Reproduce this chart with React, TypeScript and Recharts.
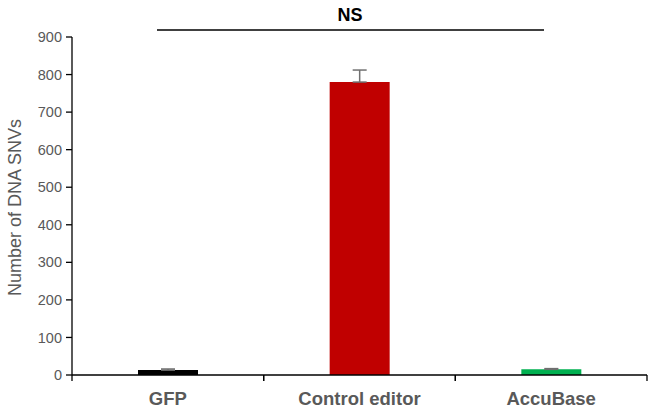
import React from "react";
import { BarChart, Bar, XAxis, YAxis, ErrorBar, Cell } from "recharts";

const categories = ["GFP", "Control editor", "AccuBase"];
const means = [13, 780, 15];
const errors = [3, 32, 2];
const barColors = ["#000000", "#C00000", "#00B050"];
const yTicks = [0, 100, 200, 300, 400, 500, 600, 700, 800, 900];

const data = categories.map((name, i) => ({
  name,
  value: means[i],
  err: [0, errors[i]],
}));

const W = 657;
const H = 413;
const M = { top: 37, right: 10, left: 0, bottom: 0 };
const Y_W = 72;
const FONT = "Liberation Sans, Arial, sans-serif";
const halfBand = (W - Y_W - M.right) / categories.length / 2;

const CatTick = (props: any) => {
  const { x, y, payload } = props;
  return (
    <g>
      <line x1={x - halfBand} x2={x - halfBand} y1={y - 8} y2={y - 2} stroke="#000" strokeWidth={1.3} />
      <line x1={x + halfBand} x2={x + halfBand} y1={y - 8} y2={y - 2} stroke="#000" strokeWidth={1.3} />
      <text
        x={x}
        y={y + 22}
        textAnchor="middle"
        fill="#595959"
        fontSize={18.5}
        fontWeight="bold"
        fontFamily={FONT}
      >
        {payload.value}
      </text>
    </g>
  );
};

export default function App() {
  return (
    <div style={{ position: "absolute", left: 0, top: 0, width: W, height: H, background: "#fff" }}>
      <BarChart width={W} height={H} data={data} margin={M}>
        <XAxis
          dataKey="name"
          height={38}
          axisLine={{ stroke: "#000", strokeWidth: 1.3 }}
          tickLine={false}
          tick={<CatTick />}
          interval={0}
        />
        <YAxis
          width={Y_W}
          domain={[0, 900]}
          ticks={yTicks}
          interval={0}
          axisLine={{ stroke: "#000", strokeWidth: 1.3 }}
          tickLine={{ stroke: "#000", strokeWidth: 1.3 }}
          tickSize={6}
          tickMargin={4}
          tick={{ fill: "#595959", fontSize: 14.5, fontFamily: FONT }}
          label={{
            value: "Number of DNA SNVs",
            angle: -90,
            position: "insideLeft",
            dx: 10,
            dy: 90,
            fill: "#595959",
            fontSize: 18,
            fontFamily: FONT,
          }}
        />
        <Bar dataKey="value" barSize={60} isAnimationActive={false}>
          {data.map((d, i) => (
            <Cell key={d.name} fill={barColors[i]} />
          ))}
          <ErrorBar dataKey="err" width={7} stroke="#707070" strokeWidth={1.5} direction="y" />
        </Bar>
      </BarChart>
      <svg
        width={W}
        height={40}
        style={{ position: "absolute", left: 0, top: 0, pointerEvents: "none" }}
      >
        <text x={350} y={21} textAnchor="middle" fontSize={18} fontWeight="bold" fill="#000" fontFamily={FONT}>
          NS
        </text>
        <line x1={157} x2={544} y1={30} y2={30} stroke="#000" strokeWidth={1.5} />
      </svg>
    </div>
  );
}
